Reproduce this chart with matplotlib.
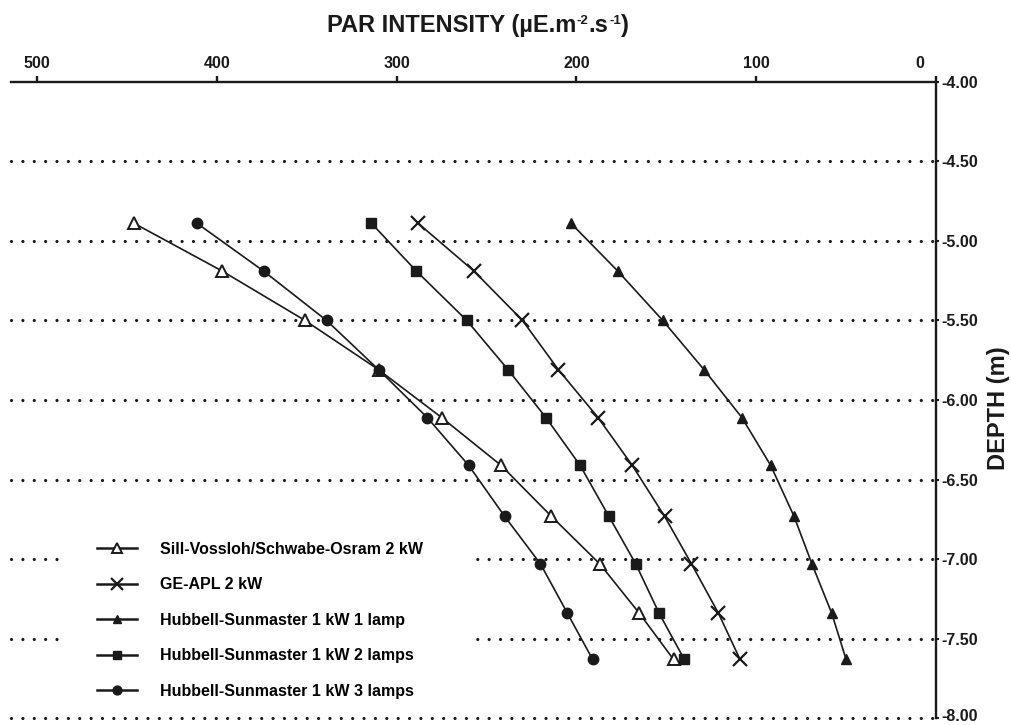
import matplotlib
matplotlib.use('Agg')
import matplotlib.pyplot as plt
from matplotlib.patches import Rectangle
from matplotlib.transforms import ScaledTranslation

plt.rcParams['font.family'] = ['Liberation Sans', 'DejaVu Sans']
plt.rcParams['font.weight'] = 'bold'

# depth (m) of each measurement
depth = [-4.89, -5.19, -5.50, -5.81, -6.11, -6.41, -6.73, -7.03, -7.34, -7.63]
# PAR intensity per lamp setup
sill = [446, 397, 351, 310, 275, 242, 214, 187, 165, 146]
ge_apl = [288, 257, 230, 210, 188, 169, 151, 136, 121, 109]
hub_1 = [203, 177, 152, 129, 108, 92, 79, 69, 58, 50]
hub_2 = [314, 289, 261, 238, 217, 198, 182, 167, 154, 140]
hub_3 = [411, 374, 339, 310, 283, 260, 240, 220, 205, 191]

names = ['Sill-Vossloh/Schwabe-Osram 2 kW', 'GE-APL 2 kW',
         'Hubbell-Sunmaster 1 kW 1 lamp', 'Hubbell-Sunmaster 1 kW 2 lamps',
         'Hubbell-Sunmaster 1 kW 3 lamps']
xticks = [500, 400, 300, 200, 100, 0]
yticks = [-4.0, -4.5, -5.0, -5.5, -6.0, -6.5, -7.0, -7.5, -8.0]

fig = plt.figure(figsize=(10.12, 7.25), dpi=100)
ax = fig.add_axes([11/1012, 6.7/725, 925/1012, 636.6/725])
ax.set_xlim(514.5, 0)
ax.set_ylim(-8, -4)

for s in ['left', 'bottom']:
    ax.spines[s].set_visible(False)
for s in ['top', 'right']:
    ax.spines[s].set_linewidth(1.7)
    ax.spines[s].set_color('#1a1a1a')

ax.xaxis.tick_top()
ax.yaxis.tick_right()
ax.set_xticks(xticks)
ax.set_xticklabels([str(v) for v in xticks])
ax.set_yticks(yticks)
ax.set_yticklabels(['%.2f' % v for v in yticks])
ax.tick_params(axis='x', direction='out', length=4.5, width=1.7, pad=3,
               labelsize=11.5, colors='#1a1a1a')
ax.tick_params(axis='y', direction='out', length=2, width=1.5, pad=2,
               labelsize=11.5, colors='#1a1a1a')
# nudge the "0" label left of the corner and "-8.00" up off the edge
t0 = ax.xaxis.get_major_ticks()[-1]
t0.label2.set_transform(t0.label2.get_transform()
                        + ScaledTranslation(-0.16, 0, fig.dpi_scale_trans))
t8 = ax.yaxis.get_major_ticks()[-1]
t8.label2.set_transform(t8.label2.get_transform()
                        + ScaledTranslation(0, 0.03, fig.dpi_scale_trans))

for d in yticks[1:]:
    ax.axhline(d, color='#1a1a1a', lw=2.3, linestyle=(0, (0.01, 3.55)),
               dash_capstyle='round', zorder=1, clip_on=False)

# white box behind the legend
ax.add_patch(Rectangle((0.058, 0.03), 0.438, 0.27, transform=ax.transAxes,
                       fc='white', ec='none', zorder=2))

kw = dict(color='#1a1a1a', lw=1.2, zorder=3)
ax.plot(sill, depth, marker='^', ms=8.5, mfc='white', mec='#1a1a1a', mew=1.4,
        label=names[0], **kw)
ax.plot(ge_apl, depth, marker='x', ms=9.5, mew=1.6, label=names[1], **kw)
ax.plot(hub_1, depth, marker='^', ms=7.5, label=names[2], **kw)
ax.plot(hub_2, depth, marker='s', ms=7, label=names[3], **kw)
ax.plot(hub_3, depth, marker='o', ms=7.5, label=names[4], **kw)

leg = ax.legend(loc='upper left', bbox_to_anchor=(0.093, 0.277), frameon=False,
                fontsize=11.5, handlelength=2.5, handletextpad=1.45,
                labelspacing=1.28, borderpad=0, borderaxespad=0,
                markerscale=0.85)
for h in leg.get_lines():
    h.set_linewidth(1.8)

# title with small superscripts, built piece by piece
parts = [('PAR INTENSITY (µE.m', 17, 0), ('-2', 9.5, 7), ('.s', 17, 0),
         ('-1', 9.5, 7), (')', 17, 0)]
first = fig.text(0.5, 1 - 37/725, parts[0][0], ha='left', va='bottom',
                 fontsize=17, fontweight='bold', color='#1a1a1a')
pieces = [first]
prev = first
for txt, size, rise in parts[1:]:
    prev = ax.annotate(txt, xy=(1, 0), xycoords=(prev, first),
                       xytext=(0.3, rise), textcoords='offset points',
                       ha='left', va='bottom', fontsize=size,
                       fontweight='bold', color='#1a1a1a',
                       annotation_clip=False, clip_on=False)
    pieces.append(prev)
fig.canvas.draw()
r = fig.canvas.get_renderer()
x0 = first.get_window_extent(r).x0
x1 = pieces[-1].get_window_extent(r).x1
first.set_x(0.5 + (478 - (x0 + x1) / 2) / 1012)

fig.text(999/1012, 1 - 408/725, 'DEPTH (m)', rotation=90, ha='center',
         va='center', fontsize=17, fontweight='bold', color='#1a1a1a')

fig.savefig('out.png', dpi=100)
